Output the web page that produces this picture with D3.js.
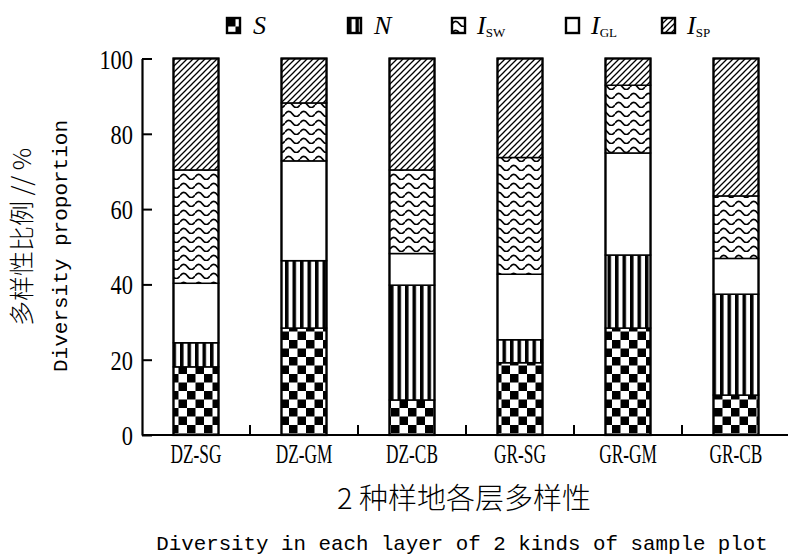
<!DOCTYPE html>
<html>
<head>
<meta charset="utf-8">
<script src="https://cdn.jsdelivr.net/npm/d3@7"></script>
<style>
  body { margin: 0; background: #fff; }
  svg { display: block; }
</style>
</head>
<body>
<svg id="chart" width="788" height="555"></svg>
<script>
// data (percent of each layer)
const categories = ['DZ-SG', 'DZ-GM', 'DZ-CB', 'GR-SG', 'GR-GM', 'GR-CB'];
const S    = [18.1, 28.4,  9.3, 19.2, 28.4, 10.6];
const N    = [ 6.4, 17.9, 30.5,  6.1, 19.4, 26.8];
const I_GL = [15.8, 26.5,  8.4, 17.4, 27.1,  9.5];
const I_SW = [30.1, 15.4, 22.2, 31.0, 18.0, 16.6];
const I_SP = [29.6, 11.8, 29.6, 26.3,  7.1, 36.5];
const yTicks = [0, 20, 40, 60, 80, 100];

const stackKeys = ['S', 'N', 'GL', 'SW', 'SP'];   // bottom -> top
const legendKeys = ['S', 'N', 'SW', 'GL', 'SP'];

const rows = categories.map((c, i) => ({
  cat: c, S: S[i], N: N[i], GL: I_GL[i], SW: I_SW[i], SP: I_SP[i]
}));

const svg = d3.select('#chart');
const serif = '"Liberation Serif", "Times New Roman", serif';
const mono = '"Liberation Mono", "DejaVu Sans Mono", monospace';
const cjk = '"Noto Sans CJK SC", sans-serif';

// patterns
const defs = svg.append('defs');
function pat(id, w, h) {
  const p = defs.append('pattern').attr('id', id)
    .attr('patternUnits', 'userSpaceOnUse').attr('width', w).attr('height', h);
  p.append('rect').attr('width', w).attr('height', h).attr('fill', '#fff');
  return p;
}
let p = pat('pS', 17, 17);
p.append('rect').attr('width', 8.5).attr('height', 8.5).attr('fill', '#000');
p.append('rect').attr('x', 8.5).attr('y', 8.5).attr('width', 8.5).attr('height', 8.5).attr('fill', '#000');

p = pat('pN', 7.5, 10);
p.append('rect').attr('width', 3.5).attr('height', 10).attr('fill', '#000');

p = pat('pSW', 15, 9);
p.append('path').attr('d', 'M0,6 Q3.75,0.8 7.5,6 T15,6')
  .attr('fill', 'none').attr('stroke', '#000').attr('stroke-width', 1.7);

p = pat('pSP', 6, 6);
p.append('path').attr('d', 'M-1,7 L7,-1 M-1,1 L1,-1 M5,7 L7,5')
  .attr('stroke', '#000').attr('stroke-width', 1.3);

pat('pGL', 10, 10);

const fillOf = k => 'url(#p' + k + ')';

// scales
const x = d3.scaleBand().domain(categories).range([142, 790])
  .paddingInner(0.583).paddingOuter(0.2915);
const y = d3.scaleLinear().domain([0, 100]).range([435, 58.5]);

// stacked bars
const series = d3.stack().keys(stackKeys)(rows);
const g = svg.append('g');
series.forEach(s => {
  g.selectAll(null).data(s).enter().append('rect')
    .attr('x', d => x(d.data.cat))
    .attr('y', d => y(d[1]))
    .attr('width', x.bandwidth())
    .attr('height', d => y(d[0]) - y(d[1]))
    .attr('fill', fillOf(s.key))
    .attr('stroke', '#000').attr('stroke-width', 1.5);
});
g.selectAll('.outline').data(rows).enter().append('rect')
  .attr('class', 'outline')
  .attr('x', d => x(d.cat)).attr('y', y(100))
  .attr('width', x.bandwidth()).attr('height', y(0) - y(100))
  .attr('fill', 'none').attr('stroke', '#000').attr('stroke-width', 2.2);

// y axis
const yAxis = svg.append('g').attr('transform', 'translate(142,0)')
  .call(d3.axisLeft(y).tickValues(yTicks).tickSize(-10).tickPadding(9).tickSizeOuter(0));
yAxis.select('.domain').attr('stroke-width', 2.2);
yAxis.selectAll('line').attr('stroke-width', 2);
yAxis.selectAll('text')
  .attr('x', 0).attr('dy', '0.34em')
  .attr('transform', 'translate(-9,0) scale(0.8,1)')
  .style('font-family', serif).style('font-size', '28px').attr('fill', '#000');

// x axis
const xAxis = svg.append('g').attr('transform', 'translate(0,435)')
  .call(d3.axisBottom(x).tickSize(0).tickPadding(0));
xAxis.select('.domain').attr('d', 'M142,0H788').attr('stroke-width', 2.2);
xAxis.selectAll('text')
  .attr('y', 0).attr('dy', 0)
  .attr('transform', 'translate(0,28) scale(0.64,1)')
  .style('font-family', serif).style('font-size', '27px').attr('fill', '#000');
// boundary ticks between categories
const bounds = categories.slice(1).map(c => x(c) - (x.step() - x.bandwidth()) / 2);
xAxis.selectAll('.bt').data(bounds).enter().append('line')
  .attr('x1', d => d).attr('x2', d => d).attr('y1', 0).attr('y2', -10)
  .attr('stroke', '#000').attr('stroke-width', 2);

// axis titles
svg.append('text').attr('x', 464).attr('y', 509).attr('text-anchor', 'middle')
  .style('font-family', cjk).style('font-size', '29px').style('font-weight', 300)
  .text('2 种样地各层多样性');
svg.append('text').attr('x', 462).attr('y', 550).attr('text-anchor', 'middle')
  .style('font-family', mono).style('font-size', '20.8px')
  .text('Diversity in each layer of 2 kinds of sample plot');

svg.append('text').attr('transform', 'translate(31,237) rotate(-90)')
  .attr('text-anchor', 'middle')
  .style('font-family', cjk).style('font-size', '25px').style('font-weight', 300)
  .text('多样性比例 // %');
svg.append('text').attr('transform', 'translate(67,246) rotate(-90)')
  .attr('text-anchor', 'middle')
  .style('font-family', mono).style('font-size', '21px').text('Diversity proportion');

// legend
const legendX = [227, 348, 452, 566, 662];
const legendSub = { S: null, N: null, SW: 'SW', GL: 'GL', SP: 'SP' };
const lg = svg.append('g').selectAll('g').data(legendKeys).enter().append('g')
  .attr('transform', (d, i) => 'translate(' + legendX[i] + ',18)');
lg.append('rect').attr('width', 13).attr('height', 15)
  .attr('fill', d => fillOf(d)).attr('stroke', '#000').attr('stroke-width', 2.4);
const lt = lg.append('text').attr('x', d => legendSub[d] ? 25 : 26).attr('y', 16)
  .style('font-family', serif).style('font-size', '26px');
lt.append('tspan').style('font-style', 'italic').text(d => legendSub[d] ? 'I' : d);
lt.filter(d => legendSub[d]).append('tspan')
  .attr('dy', 3).style('font-size', '13px').text(d => legendSub[d]);
</script>
</body>
</html>
